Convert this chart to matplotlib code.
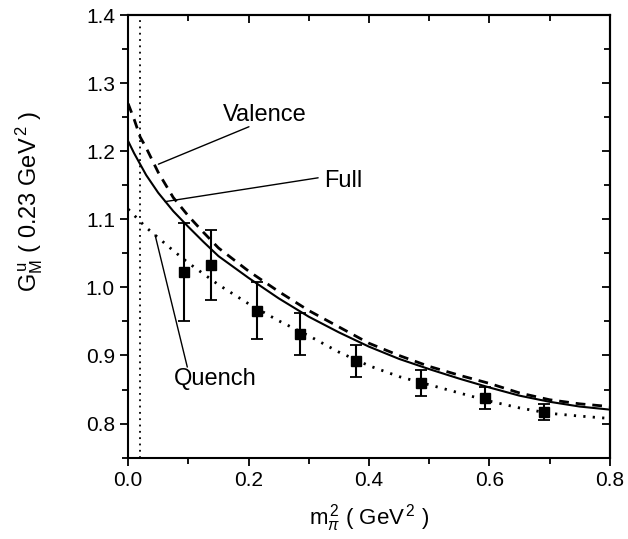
import matplotlib
matplotlib.use("Agg")
import matplotlib.pyplot as plt
from matplotlib.ticker import MultipleLocator, FormatStrFormatter

plt.rcParams['font.family'] = ['Liberation Sans', 'DejaVu Sans']
plt.rcParams['mathtext.fontset'] = 'custom'
plt.rcParams['mathtext.rm'] = 'Liberation Sans'
plt.rcParams['mathtext.it'] = 'Liberation Sans:italic'
plt.rcParams['mathtext.bf'] = 'Liberation Sans:bold'

# curve samples
x_curve = [0, 0.01, 0.02, 0.03, 0.05, 0.075, 0.1, 0.125, 0.15, 0.2, 0.25, 0.3,
           0.35, 0.4, 0.45, 0.5, 0.55, 0.6, 0.65, 0.7, 0.75, 0.8]
full = [1.215, 1.197, 1.181, 1.165, 1.139, 1.112, 1.089, 1.067, 1.046, 1.014, 0.984, 0.957,
        0.934, 0.913, 0.895, 0.880, 0.866, 0.853, 0.841, 0.832, 0.825, 0.8205]
valence = [1.270, 1.247, 1.221, 1.205, 1.169, 1.132, 1.105, 1.081, 1.058, 1.024, 0.994, 0.966,
           0.942, 0.918, 0.900, 0.884, 0.871, 0.859, 0.845, 0.835, 0.829, 0.825]
quench = [1.115, 1.106, 1.097, 1.088, 1.073, 1.054, 1.036, 1.020, 1.004, 0.976, 0.951, 0.929,
          0.905, 0.885, 0.869, 0.857, 0.845, 0.833, 0.823, 0.815, 0.811, 0.8075]

# lattice data points
x_data = [0.093, 0.138, 0.2145, 0.286, 0.379, 0.486, 0.592, 0.69]
y_data = [1.023, 1.033, 0.966, 0.931, 0.892, 0.860, 0.838, 0.817]
y_err = [0.072, 0.051, 0.042, 0.031, 0.024, 0.019, 0.016, 0.012]

m_pi_phys = 0.019

fig = plt.figure(figsize=(6.28, 5.39), dpi=100)
ax = fig.add_axes([0.204, 0.151, 0.767, 0.821])

ax.plot(x_curve, full, '-', color='black', lw=1.5)
ax.plot(x_curve, valence, color='black', lw=2.0, linestyle=(0, (3.5, 2.5)))
ax.plot(x_curve, quench, color='black', lw=2.0, linestyle=(0, (0.8, 2.6)))
ax.axvline(m_pi_phys, color='black', lw=1.3, linestyle=(0, (1, 2.5)))
ax.errorbar(x_data, y_data, yerr=y_err, fmt='s', color='black', ms=6.5,
            elinewidth=1.5, capsize=4, capthick=1.3)

ax.set_xlim(0, 0.8)
ax.set_ylim(0.75, 1.4)
ax.xaxis.set_major_locator(MultipleLocator(0.2))
ax.xaxis.set_minor_locator(MultipleLocator(0.1))
ax.yaxis.set_major_locator(MultipleLocator(0.1))
ax.yaxis.set_minor_locator(MultipleLocator(0.05))
ax.xaxis.set_major_formatter(FormatStrFormatter('%.1f'))
ax.yaxis.set_major_formatter(FormatStrFormatter('%.1f'))

for s in ax.spines.values():
    s.set_linewidth(1.5)

ax.tick_params(which='both', direction='out', width=1.3, labelsize=15,
               top=False, right=False)
ax.tick_params(which='major', length=6)
ax.tick_params(which='minor', length=4)
axt = ax.secondary_xaxis('top')
axt.xaxis.set_major_locator(MultipleLocator(0.2))
axt.xaxis.set_minor_locator(MultipleLocator(0.1))
axt.tick_params(which='both', direction='in', width=1.3, labeltop=False)
axt.tick_params(which='major', length=6)
axt.tick_params(which='minor', length=4)
axt.spines['top'].set_linewidth(1.5)
axr = ax.secondary_yaxis('right')
axr.yaxis.set_major_locator(MultipleLocator(0.1))
axr.yaxis.set_minor_locator(MultipleLocator(0.05))
axr.tick_params(which='both', direction='in', width=1.3, labelright=False)
axr.tick_params(which='major', length=6)
axr.tick_params(which='minor', length=4)
axr.spines['right'].set_linewidth(1.5)

ax.set_xlabel(r'm$_\pi^{\,2}$ ( GeV$^{\,2}$ )', fontsize=16, labelpad=9)
ax.set_ylabel(r'G$_\mathrm{M}^{\,\mathrm{u}}$ ( 0.23 GeV$^{\,2}$ )', fontsize=17)
ax.yaxis.set_label_coords(-0.172, 0.58)

# annotations: leader lines and labels
line_kw = dict(arrowstyle='-', color='black', lw=1.0, shrinkA=0, shrinkB=0)
ax.annotate('', xy=(0.0503, 1.181), xytext=(0.2007, 1.236), arrowprops=line_kw)
ax.annotate('', xy=(0.0614, 1.126), xytext=(0.3156, 1.161), arrowprops=line_kw)
ax.annotate('', xy=(0.0448, 1.077), xytext=(0.0983, 0.883), arrowprops=line_kw)
ax.text(0.227, 1.253, 'Valence', fontsize=17, ha='center', va='center')
ax.text(0.357, 1.156, 'Full', fontsize=17, ha='center', va='center')
ax.text(0.145, 0.866, 'Quench', fontsize=17, ha='center', va='center')

fig.savefig('out.png', dpi=100)
